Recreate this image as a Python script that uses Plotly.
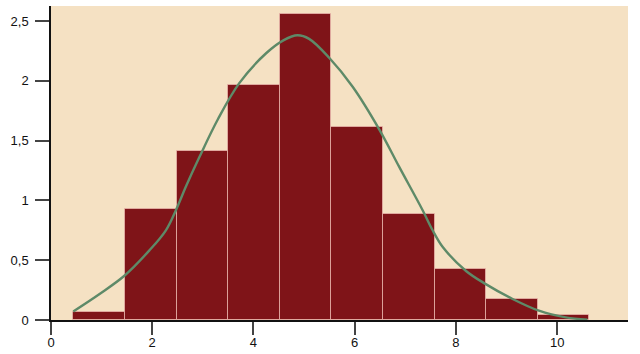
import plotly.graph_objects as go

bin_edges = [0.44, 1.46, 2.48, 3.50, 4.52, 5.54, 6.56, 7.58, 8.60, 9.62, 10.63]
bar_heights = [0.07, 0.925, 1.41, 1.965, 2.556, 1.612, 0.883, 0.43, 0.176, 0.042]

curve_x = [0.44, 0.96, 1.45, 1.94, 2.27, 2.47, 2.67, 2.93, 3.3, 3.72, 4.25, 4.6, 4.87,
           5.1, 5.5, 5.96, 6.49, 6.88, 7.34, 7.54, 7.74, 8.2, 8.59, 9.12, 9.64, 10.17, 10.6]
curve_y = [0.072, 0.218, 0.37, 0.58, 0.75, 0.92, 1.12, 1.36, 1.68, 1.98, 2.23, 2.34, 2.38,
           2.35, 2.19, 1.95, 1.59, 1.28, 0.92, 0.75, 0.61, 0.41, 0.30, 0.176, 0.078, 0.022, 0.003]

y_ticks = [0, 0.5, 1, 1.5, 2, 2.5]
x_ticks = [0, 2, 4, 6, 8, 10]

centers = [(bin_edges[i] + bin_edges[i + 1]) / 2 for i in range(len(bar_heights))]
widths = [bin_edges[i + 1] - bin_edges[i] for i in range(len(bar_heights))]

fig = go.Figure()
fig.add_trace(go.Bar(
    x=centers, y=bar_heights, width=widths,
    marker=dict(color="#7f1418", line=dict(color="rgba(240,190,180,0.7)", width=1)),
    hoverinfo="skip",
))
fig.add_trace(go.Scatter(
    x=curve_x, y=curve_y, mode="lines", line_shape="spline",
    line=dict(color="#5e8a68", width=2.4, smoothing=1),
    hoverinfo="skip",
))

fig.update_layout(
    width=640, height=354,
    margin=dict(l=51, r=12, t=6, b=34, autoexpand=False),
    paper_bgcolor="white",
    plot_bgcolor="#f5e1c3",
    showlegend=False,
    bargap=0,
    separators=",.",
    font=dict(family="Liberation Sans, Arial, sans-serif", size=13, color="#111"),
    xaxis=dict(
        range=[0, 11.4], tickvals=x_ticks, showgrid=False, zeroline=False,
        showline=True, linecolor="#111", linewidth=1.5, automargin=False,
        ticks="outside", ticklen=13, tickcolor="#444", tickwidth=1.5,
        ticklabelstandoff=-3,
    ),
    yaxis=dict(
        range=[0, 2.625], tickvals=y_ticks, showgrid=False, zeroline=False,
        showline=True, linecolor="#111", linewidth=1.5, automargin=False,
        ticks="outside", ticklen=14, tickcolor="#444", tickwidth=1.5,
        ticklabelstandoff=4,
    ),
)

fig.write_html("out.html")
